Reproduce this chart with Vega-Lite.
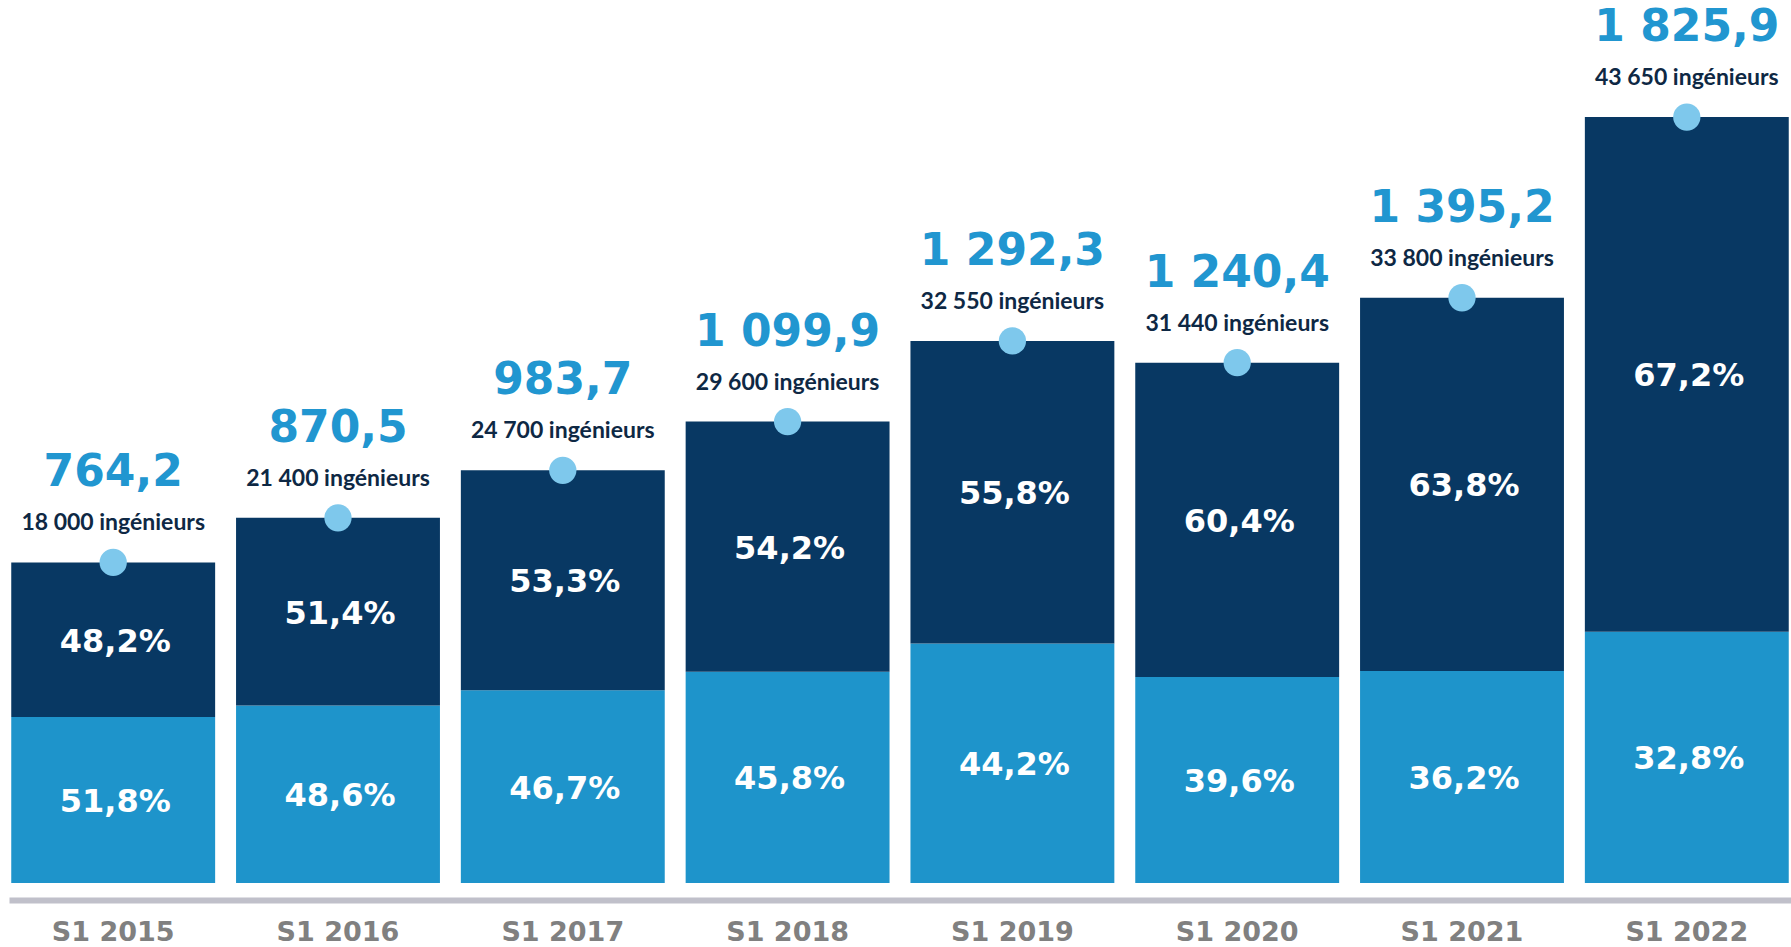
{
  "$schema": "https://vega.github.io/schema/vega-lite/v6.json",
  "width": 1782,
  "height": 883,
  "autosize": {"type": "none"},
  "padding": {"left": 9, "top": 0, "right": 0, "bottom": 64},
  "background": "white",
  "config": {"view": {"stroke": null}},
  "datasets": {
    "segments": [
      {"year": "S1 2015", "seg": "bas", "lo": 0, "hi": 395.9, "label": "51,8%"},
      {"year": "S1 2015", "seg": "haut", "lo": 395.9, "hi": 764.2, "label": "48,2%"},
      {"year": "S1 2016", "seg": "bas", "lo": 0, "hi": 423.1, "label": "48,6%"},
      {"year": "S1 2016", "seg": "haut", "lo": 423.1, "hi": 870.5, "label": "51,4%"},
      {"year": "S1 2017", "seg": "bas", "lo": 0, "hi": 459.4, "label": "46,7%"},
      {"year": "S1 2017", "seg": "haut", "lo": 459.4, "hi": 983.7, "label": "53,3%"},
      {"year": "S1 2018", "seg": "bas", "lo": 0, "hi": 503.8, "label": "45,8%"},
      {"year": "S1 2018", "seg": "haut", "lo": 503.8, "hi": 1099.9, "label": "54,2%"},
      {"year": "S1 2019", "seg": "bas", "lo": 0, "hi": 571.2, "label": "44,2%"},
      {"year": "S1 2019", "seg": "haut", "lo": 571.2, "hi": 1292.3, "label": "55,8%"},
      {"year": "S1 2020", "seg": "bas", "lo": 0, "hi": 491.2, "label": "39,6%"},
      {"year": "S1 2020", "seg": "haut", "lo": 491.2, "hi": 1240.4, "label": "60,4%"},
      {"year": "S1 2021", "seg": "bas", "lo": 0, "hi": 505.1, "label": "36,2%"},
      {"year": "S1 2021", "seg": "haut", "lo": 505.1, "hi": 1395.2, "label": "63,8%"},
      {"year": "S1 2022", "seg": "bas", "lo": 0, "hi": 598.9, "label": "32,8%"},
      {"year": "S1 2022", "seg": "haut", "lo": 598.9, "hi": 1825.9, "label": "67,2%"}
    ],
    "totals": [
      {"year": "S1 2015", "total": 764.2, "totalLabel": "764,2", "eng": "18 000 ingénieurs"},
      {"year": "S1 2016", "total": 870.5, "totalLabel": "870,5", "eng": "21 400 ingénieurs"},
      {"year": "S1 2017", "total": 983.7, "totalLabel": "983,7", "eng": "24 700 ingénieurs"},
      {"year": "S1 2018", "total": 1099.9, "totalLabel": "1 099,9", "eng": "29 600 ingénieurs"},
      {"year": "S1 2019", "total": 1292.3, "totalLabel": "1 292,3", "eng": "32 550 ingénieurs"},
      {"year": "S1 2020", "total": 1240.4, "totalLabel": "1 240,4", "eng": "31 440 ingénieurs"},
      {"year": "S1 2021", "total": 1395.2, "totalLabel": "1 395,2", "eng": "33 800 ingénieurs"},
      {"year": "S1 2022", "total": 1825.9, "totalLabel": "1 825,9", "eng": "43 650 ingénieurs"}
    ]
  },
  "encoding": {
    "x": {
      "field": "year",
      "type": "nominal",
      "sort": null,
      "title": null,
      "scale": {"paddingInner": 0.093, "paddingOuter": 0.01},
      "axis": {
        "orient": "bottom",
        "offset": 17,
        "domainColor": "#C0C0CA",
        "domainWidth": 6,
        "ticks": false,
        "tickSize": 0,
        "grid": false,
        "labelAngle": 0,
        "labelPadding": 40,
        "labelBaseline": "alphabetic",
        "labelFont": "DejaVu Sans",
        "labelFontWeight": "bold",
        "labelFontSize": 27,
        "labelColor": "#808080"
      }
    }
  },
  "layer": [
    {
      "data": {"name": "segments"},
      "mark": {"type": "bar"},
      "encoding": {
        "y": {"field": "lo", "type": "quantitative", "scale": {"domain": [0, 2105], "nice": false, "zero": true}, "axis": null},
        "y2": {"field": "hi"},
        "color": {"field": "seg", "type": "nominal", "scale": {"domain": ["bas", "haut"], "range": ["#1E94CB", "#083863"]}, "legend": null}
      }
    },
    {
      "data": {"name": "segments"},
      "transform": [
        {"fold": ["lo", "hi"], "as": ["bound", "v"]},
        {"aggregate": [{"op": "mean", "field": "v", "as": "mid"}], "groupby": ["year", "seg", "label"]}
      ],
      "mark": {"type": "text", "font": "DejaVu Sans", "fontWeight": "bold", "fontSize": 32, "color": "white", "baseline": "alphabetic", "dy": 12, "dx": 2},
      "encoding": {
        "y": {"field": "mid", "type": "quantitative", "scale": {"domain": [0, 2105], "nice": false, "zero": true}, "axis": null},
        "text": {"field": "label"}
      }
    },
    {
      "data": {"name": "totals"},
      "mark": {"type": "point", "filled": true, "shape": "circle", "size": 745, "color": "#7EC8EC", "opacity": 1, "strokeWidth": 0},
      "encoding": {
        "y": {"field": "total", "type": "quantitative", "scale": {"domain": [0, 2105], "nice": false, "zero": true}, "axis": null}
      }
    },
    {
      "data": {"name": "totals"},
      "mark": {"type": "text", "font": "Lato", "fontWeight": "bold", "fontSize": 23, "color": "#0E2844", "baseline": "alphabetic", "dy": -32},
      "encoding": {
        "y": {"field": "total", "type": "quantitative", "scale": {"domain": [0, 2105], "nice": false, "zero": true}, "axis": null},
        "text": {"field": "eng"}
      }
    },
    {
      "data": {"name": "totals"},
      "mark": {"type": "text", "font": "DejaVu Sans", "fontWeight": "bold", "fontSize": 44, "color": "#2196D0", "baseline": "alphabetic", "dy": -76},
      "encoding": {
        "y": {"field": "total", "type": "quantitative", "scale": {"domain": [0, 2105], "nice": false, "zero": true}, "axis": null},
        "text": {"field": "totalLabel"}
      }
    }
  ]
}
